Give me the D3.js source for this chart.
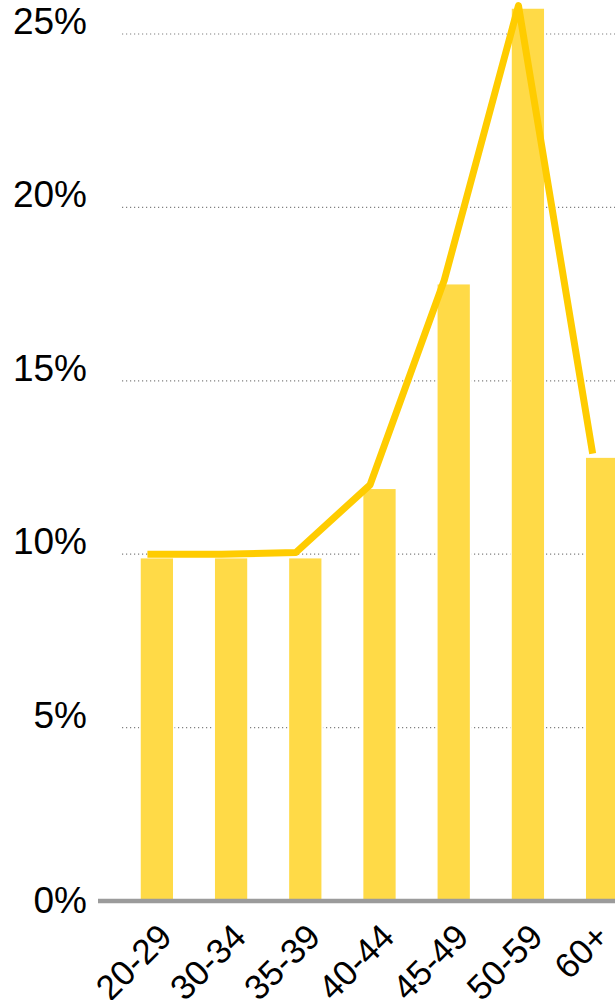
<!DOCTYPE html>
<html>
<head>
<meta charset="utf-8">
<script src="https://cdn.jsdelivr.net/npm/d3@7"></script>
<style>
  body { margin: 0; background: #fff; }
  svg { display: block; font-family: "Liberation Sans", Arial, sans-serif; }
</style>
</head>
<body>
<svg id="chart" width="615" height="1000"></svg>
<script>
// data
const categories = ["20-29", "30-34", "35-39", "40-44", "45-49", "50-59", "60+"];
const barValues = [9.9, 9.9, 9.9, 11.9, 17.8, 25.75, 12.8];
const lineValues = [10.0, 10.0, 10.05, 12.0, 17.9, 25.82, 12.9];
const yTicks = [0, 5, 10, 15, 20, 25];

const width = 615;
const height = 1000;

const svg = d3.select("#chart");

// scales
const x = d3.scaleBand()
  .domain(categories)
  .range([140, 619])
  .paddingInner(0.545)
  .paddingOuter(0);

const y = d3.scaleLinear()
  .domain([0, 25])
  .range([901, 34]);

// gridlines (dotted)
svg.append("g")
  .selectAll("line")
  .data(yTicks.filter((d) => d > 0))
  .join("line")
  .attr("x1", 122)
  .attr("x2", width)
  .attr("y1", (d) => y(d))
  .attr("y2", (d) => y(d))
  .attr("stroke", "#808080")
  .attr("stroke-width", 1.2)
  .attr("stroke-dasharray", "1.2,2.8");

// y labels
svg.append("g")
  .selectAll("text")
  .data(yTicks)
  .join("text")
  .attr("x", 87)
  .attr("y", (d) => y(d))
  .attr("dy", (d) => (d === 0 ? 12 : 0))
  .attr("text-anchor", "end")
  .style("font-size", "37px")
  .style("fill", "#000")
  .text((d) => d + "%");

// bars
svg.append("g")
  .selectAll("rect")
  .data(barValues)
  .join("rect")
  .attr("x", (d, i) => x(categories[i]))
  .attr("y", (d) => y(d))
  .attr("width", x.bandwidth())
  .attr("height", (d) => y(0) - y(d))
  .attr("fill", "#ffda47")
  .attr("stroke", "#fff")
  .attr("stroke-width", 1.5);

// baseline
svg.append("line")
  .attr("x1", 98)
  .attr("x2", width)
  .attr("y1", y(0))
  .attr("y2", y(0))
  .attr("stroke", "#9b9b9b")
  .attr("stroke-width", 4.5);

// line series, points sit a bit left of each bar centre
const line = d3.line()
  .x((d, i) => x(categories[i]) + x.bandwidth() * 0.22)
  .y((d) => y(d));

svg.append("path")
  .datum(lineValues)
  .attr("fill", "none")
  .attr("stroke", "#ffcc00")
  .attr("stroke-width", 7)
  .attr("stroke-linejoin", "round")
  .attr("stroke-linecap", "butt")
  .attr("d", line);

// x labels, rotated
svg.append("g")
  .selectAll("text")
  .data(categories)
  .join("text")
  .attr("transform", (d) => {
    const ax = Math.min(x(d) + x.bandwidth(), width - 4);
    return `translate(${ax},939) rotate(-45)`;
  })
  .attr("text-anchor", "end")
  .style("font-size", "35px")
  .style("fill", "#000")
  .text((d) => d);
</script>
</body>
</html>
